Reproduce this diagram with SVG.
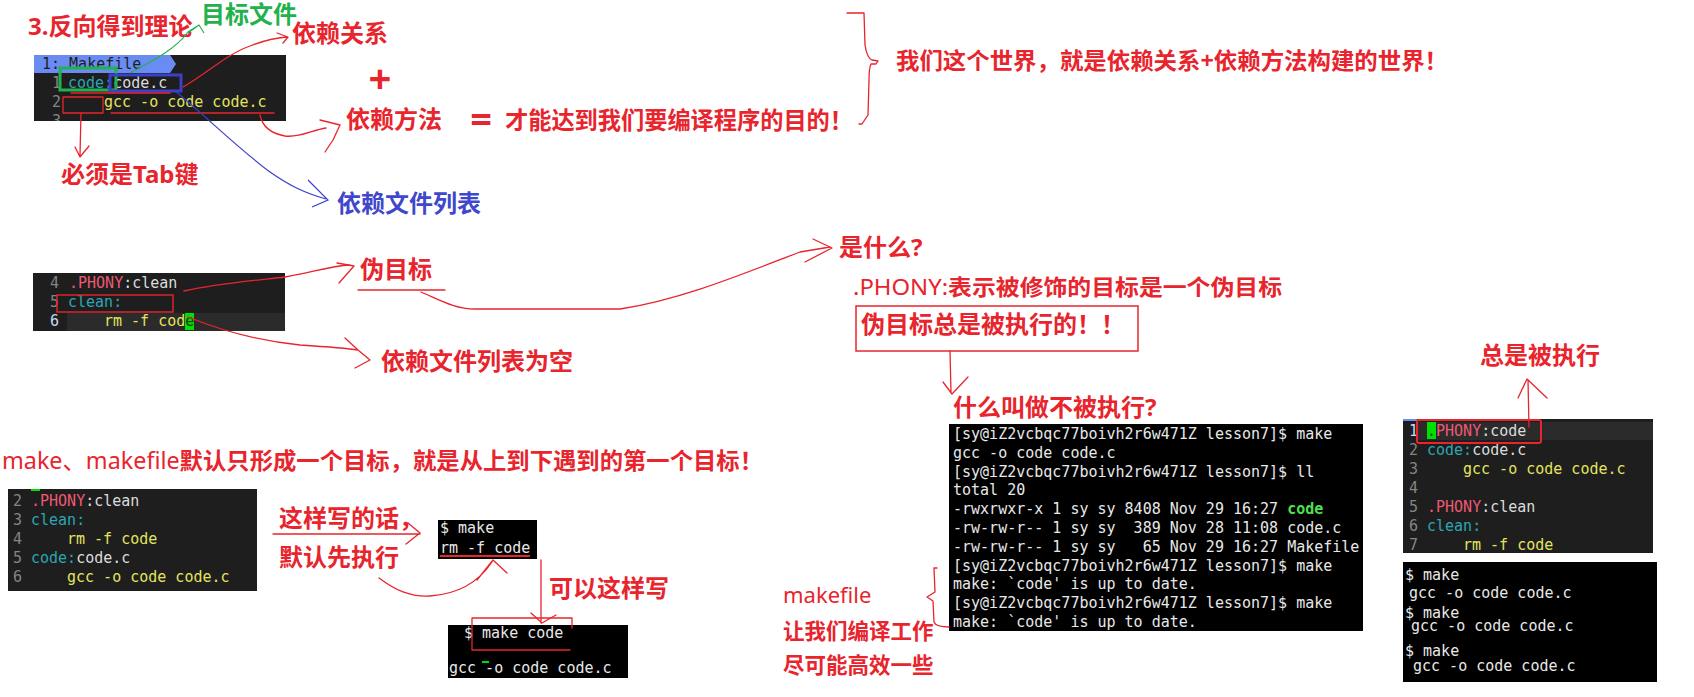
<svg xmlns="http://www.w3.org/2000/svg" width="1694" height="697" viewBox="0 0 1694 697">
<style>
.r{fill:#e8242d;font-family:"Noto Sans","Noto Sans CJK SC",sans-serif;font-weight:700;font-size:24px}
.n{font-weight:400}
.g{fill:#22b14c}
.b{fill:#3f48cc}
.mono{font-family:"DejaVu Sans Mono",monospace;font-size:15px;white-space:pre}
.ln{fill:#858585}
.lh{fill:#c6d8f5}
.pk{fill:#ec5a73}
.tl{fill:#2aa6b4}
.yw{fill:#e4e45e}
.wh{fill:#dcdcdc}
.tw{fill:#e8e8e8}
.dk{fill:#1e1e1e}
.ed{fill:#1e1e1e}
.hl{fill:#2b2b2b}
.term{fill:#000}
.rs{fill:none;stroke:#e8242d;stroke-width:1.3;stroke-linecap:round;stroke-linejoin:round}
</style>
<defs>
<clipPath id="c1"><rect x="34" y="55" width="252" height="66"/></clipPath>
</defs>
<rect width="1694" height="697" fill="#fff"/>

<!-- top-left editor -->
<g id="editor-makefile">
<g clip-path="url(#c1)">
<rect class="ed" x="34" y="55" width="252" height="66"/>
<polygon points="34,55 170,55 176,64 170,73 34,73" fill="#6a8cf2"/>
<text class="mono dk" x="42" y="69">1: Makefile</text>
<text class="mono ln" x="52" y="88">1</text>
<text class="mono" x="68" y="88"><tspan class="tl">code:</tspan><tspan class="wh">code.c</tspan></text>
<text class="mono ln" x="52" y="107">2</text>
<text class="mono yw" x="104" y="107">gcc -o code code.c</text>
<text class="mono ln" x="52" y="126">3</text>
</g>
<rect x="60" y="68" width="56" height="22" fill="none" stroke="#22b14c" stroke-width="3"/>
<rect x="110" y="75" width="71" height="16" fill="none" stroke="#3a40c8" stroke-width="3"/>
<path class="rs" d="M71,93 L170,93"/>
<rect x="63" y="97" width="40" height="16" class="rs"/>
<path class="rs" d="M111,113 L274,113"/>
</g>

<g id="label-title"><text class="r" x="28" y="35">3.反向得到理论</text></g>
<g id="label-target"><text class="r g" x="201" y="23">目标文件</text></g>
<g id="label-deprel"><text class="r" x="292" y="42">依赖关系</text></g>
<g id="label-plus"><text class="r" x="380" y="93" style="font-size:40px" text-anchor="middle">+</text></g>
<g id="label-depmethod"><text class="r" x="346" y="128">依赖方法</text></g>
<g id="label-eq"><text class="r" x="481" y="133" style="font-size:38px" text-anchor="middle">=</text></g>
<g id="label-goal"><text class="r" x="505" y="129" textLength="348" lengthAdjust="spacingAndGlyphs">才能达到我们要编译程序的目的！</text></g>
<g id="label-world"><text class="r" x="896" y="69" style="font-size:23px" textLength="552" lengthAdjust="spacingAndGlyphs">我们这个世界，就是依赖关系+依赖方法构建的世界！</text></g>
<g id="label-tab"><text class="r" x="61" y="183">必须是Tab键</text></g>
<g id="label-deplist"><text class="r b" x="337" y="212">依赖文件列表</text></g>

<!-- .PHONY clean editor -->
<g id="editor-clean">
<rect class="ed" x="33" y="273" width="252" height="58"/>
<rect class="hl" x="67" y="313" width="218" height="18"/>
<text class="mono ln" x="50" y="288">4</text>
<text class="mono" x="69" y="288"><tspan class="pk">.PHONY</tspan><tspan class="wh">:clean</tspan></text>
<text class="mono ln" x="50" y="307">5</text>
<text class="mono tl" x="68" y="307">clean:</text>
<text class="mono lh" x="50" y="326">6</text>
<rect x="185" y="313" width="9" height="17" fill="#00e000"/>
<text class="mono yw" x="104" y="326">rm -f cod<tspan fill="#1e3a1e">e</tspan></text>
<rect x="57" y="295" width="116" height="17" fill="none" stroke="#e8242d" stroke-width="1.4"/>
</g>

<g id="label-phony"><text class="r" x="360" y="278">伪目标</text></g>
<g id="label-empty"><text class="r" x="381" y="370">依赖文件列表为空</text></g>
<g id="label-what"><text class="r" x="839" y="256">是什么?</text></g>
<g id="label-phonydesc"><text class="r" x="853" y="295" style="font-size:22px" textLength="429" lengthAdjust="spacingAndGlyphs"><tspan class="n">.PHONY:</tspan>表示被修饰的目标是一个伪目标</text></g>
<g id="box-always">
<rect x="856" y="306" width="282" height="45" fill="none" stroke="#e8242d" stroke-width="1.5"/>
<text class="r" x="861" y="333">伪目标总是被执行的！！</text>
</g>
<g id="label-notexec"><text class="r" x="953" y="416">什么叫做不被执行?</text></g>

<!-- middle terminal -->
<g id="terminal-make" class="mono tw">
<rect class="term" x="949" y="424" width="414" height="207"/>
<text class="mono" x="953" y="439">[sy@iZ2vcbqc77boivh2r6w471Z lesson7]$ make</text>
<text class="mono" x="953" y="457.8">gcc -o code code.c</text>
<text class="mono" x="953" y="476.6">[sy@iZ2vcbqc77boivh2r6w471Z lesson7]$ ll</text>
<text class="mono" x="953" y="495.4">total 20</text>
<text class="mono" x="953" y="514.2">-rwxrwxr-x 1 sy sy 8408 Nov 29 16:27 <tspan fill="#4fe04f" font-weight="700">code</tspan></text>
<text class="mono" x="953" y="533" xml:space="preserve">-rw-rw-r-- 1 sy sy  389 Nov 28 11:08 code.c</text>
<text class="mono" x="953" y="551.8" xml:space="preserve">-rw-rw-r-- 1 sy sy   65 Nov 29 16:27 Makefile</text>
<text class="mono" x="953" y="570.6">[sy@iZ2vcbqc77boivh2r6w471Z lesson7]$ make</text>
<text class="mono" x="953" y="589.4">make: `code' is up to date.</text>
<text class="mono" x="953" y="608.2">[sy@iZ2vcbqc77boivh2r6w471Z lesson7]$ make</text>
<text class="mono" x="953" y="627">make: `code' is up to date.</text>
</g>

<g id="label-efficient">
<text class="r n" x="783" y="603" style="font-size:22px">makefile</text>
<text class="r" x="783" y="639" style="font-size:21.5px">让我们编译工作</text>
<text class="r" x="783" y="673" style="font-size:21.5px">尽可能高效一些</text>
</g>

<g id="label-default"><text class="r" x="2" y="469" style="font-size:23px" textLength="761" lengthAdjust="spacingAndGlyphs"><tspan class="n">make、makefile</tspan>默认只形成一个目标，就是从上到下遇到的第一个目标！</text></g>

<!-- bottom-left editor -->
<g id="editor-bottom" class="mono">
<rect class="ed" x="8" y="489" width="249" height="102"/>
<rect x="31" y="489" width="9" height="2" fill="#00e000"/>
<text class="mono ln" x="13" y="506">2</text>
<text class="mono" x="31" y="506"><tspan class="pk">.PHONY</tspan><tspan class="wh">:clean</tspan></text>
<text class="mono ln" x="13" y="525">3</text>
<text class="mono tl" x="31" y="525">clean:</text>
<text class="mono ln" x="13" y="544">4</text>
<text class="mono yw" x="67" y="544">rm -f code</text>
<text class="mono ln" x="13" y="563">5</text>
<text class="mono" x="31" y="563"><tspan class="tl">code:</tspan><tspan class="wh">code.c</tspan></text>
<text class="mono ln" x="13" y="582">6</text>
<text class="mono yw" x="67" y="582">gcc -o code code.c</text>
</g>

<g id="label-ifso">
<text class="r" x="279" y="527">这样写的话，</text>
<text class="r" x="279" y="566">默认先执行</text>
</g>

<g id="terminal-small" class="mono tw">
<rect class="term" x="438" y="520" width="99" height="39"/>
<text class="mono" x="440" y="533">$ make</text>
<text class="mono" x="440" y="553">rm -f code</text>
<path d="M440,556 L530,556" stroke="#e8242d" stroke-width="2"/>
</g>

<g id="label-canwrite"><text class="r" x="549" y="597">可以这样写</text></g>

<g id="terminal-makecode" class="mono tw">
<rect class="term" x="448" y="625" width="180" height="53"/>
<text class="mono" x="464" y="638">$ make code</text>
<text class="mono" x="449" y="673">gcc -o code code.c</text>
<rect x="482" y="661" width="7" height="2" fill="#00e000"/>
<path class="rs" d="M572,628 L572,618 L472,618 L472,650 L570,650" stroke-width="1.5"/>
</g>

<!-- right editor -->
<g id="editor-right" class="mono">
<rect class="ed" x="1403" y="419" width="250" height="134"/>
<rect x="1403" y="419" width="14" height="2" fill="#6a8cf2"/>
<rect class="hl" x="1417" y="422" width="236" height="18"/>
<text class="mono lh" x="1409" y="436">1</text>
<rect x="1427" y="422" width="9" height="17" fill="#00e000"/>
<text class="mono" x="1427" y="436"><tspan fill="#1e3a1e">.</tspan><tspan class="pk">PHONY</tspan><tspan class="wh">:code</tspan></text>
<text class="mono ln" x="1409" y="455">2</text>
<text class="mono" x="1427" y="455"><tspan class="tl">code:</tspan><tspan class="wh">code.c</tspan></text>
<text class="mono ln" x="1409" y="474">3</text>
<text class="mono yw" x="1463" y="474">gcc -o code code.c</text>
<text class="mono ln" x="1409" y="493">4</text>
<text class="mono ln" x="1409" y="512">5</text>
<text class="mono" x="1427" y="512"><tspan class="pk">.PHONY</tspan><tspan class="wh">:clean</tspan></text>
<text class="mono ln" x="1409" y="531">6</text>
<text class="mono tl" x="1427" y="531">clean:</text>
<text class="mono ln" x="1409" y="550">7</text>
<text class="mono yw" x="1463" y="550">rm -f code</text>
<rect x="1417" y="420" width="124" height="23" rx="2" fill="none" stroke="#e8242d" stroke-width="2"/>
</g>

<g id="terminal-right" class="mono tw">
<rect class="term" x="1403" y="562" width="254" height="120"/>
<text class="mono" x="1405" y="580">$ make</text>
<text class="mono" x="1409" y="598">gcc -o code code.c</text>
<text class="mono" x="1405" y="618">$ make</text>
<text class="mono" x="1411" y="631">gcc -o code code.c</text>
<text class="mono" x="1405" y="656">$ make</text>
<text class="mono" x="1413" y="671">gcc -o code code.c</text>
</g>

<g id="label-alwaysexec"><text class="r" x="1480" y="364">总是被执行</text></g>

<g id="connectors">
<path d="M130,73 C150,62 175,50 188,32 L199,25 M188,33 L199,25 L204,33" fill="none" stroke="#22b14c" stroke-width="1.2"/>
<path class="rs" d="M183,87 C205,75 225,55 250,46 C265,40 275,38 287,37 M277,33 L288,37 L283,43"/>
<path class="rs" d="M260,115 C262,125 268,133 285,136 C300,138 312,130 326,128 M320,120 L340,125 L333,140 L325,152"/>
<path class="rs" d="M81,113 L80,155 M75,147 L80,157 L89,146"/>
<path d="M174,90 C210,120 240,150 270,172 C290,186 305,193 326,199 M308,180 L328,200 L312,207" fill="none" stroke="#3a40c8" stroke-width="1.2"/>
<path class="rs" d="M847,13 L864,13 L865,45 Q867,58 872,60 L878,61 L876,64 L871,64 Q869,68 869,80 L868,115 L862,124 L859,124"/>
<path class="rs" d="M184,291 C220,283 260,280 285,277 C310,273 330,266 350,265 M337,263 L354,266 L339,283"/>
<path class="rs" d="M358,290 L445,290"/>
<path class="rs" d="M421,292 C440,300 455,309 475,309 L620,309 C680,300 740,275 800,252 L830,247 M813,239 L832,248 L805,262"/>
<path class="rs" d="M188,317 C215,328 250,340 300,345 C330,347 345,348 358,350 M345,338 L358,350 L370,360 L355,368"/>
<path class="rs" d="M950,351 L951,393 M943,382 L952,394 L968,377"/>
<path class="rs" d="M273,534 L420,534 M408,523 L420,533 L406,544"/>
<path class="rs" d="M379,578 C395,590 410,597 430,596 C460,594 480,580 492,562 M477,580 L493,560 L507,573"/>
<path class="rs" d="M541,560 L541,623 M531,613 L542,623 L556,615"/>
<path class="rs" d="M937,568 L934,568 L935,592 L927,597 L933,601 L934,622 Q936,627 949,627"/>
<path class="rs" d="M1529,427 L1528,380 M1518,398 L1527,379 L1547,398"/>
</g>
</svg>
